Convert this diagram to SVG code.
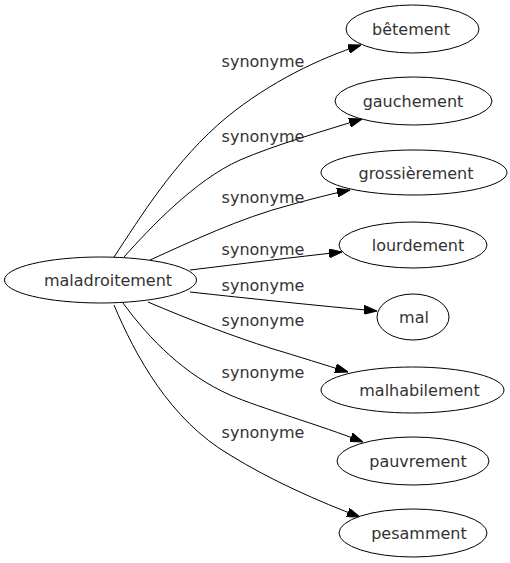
<svg xmlns="http://www.w3.org/2000/svg" width="510" height="563" viewBox="0 0 510 563">
<style>
  .node ellipse { fill: #ffffff; stroke: #000000; stroke-width: 1; }
  .node text { font-family: "DejaVu Sans", "Liberation Sans", sans-serif; font-size: 16px; fill: #333333; text-anchor: middle; }
  .edge path { fill: none; stroke: #000000; stroke-width: 1; marker-end: url(#arrow); }
  .edge text { font-family: "DejaVu Sans", "Liberation Sans", sans-serif; font-size: 16px; fill: #333333; text-anchor: middle; }
</style>
<defs>
  <marker id="arrow" viewBox="0 0 13 9" refX="13" refY="4.5" markerWidth="13" markerHeight="9" markerUnits="userSpaceOnUse" orient="auto">
    <path d="M0,0 L13,4.5 L0,9 z" fill="#000000" stroke="#000000" stroke-width="1"/>
  </marker>
</defs>
<rect width="510" height="563" fill="#ffffff"/>
<g id="connectors">
  <g class="edge"><path d="M114,257 C140,218 175,160 227,117 C270,82 320,58 361,45"/><text x="263" y="67">synonyme</text></g>
  <g class="edge"><path d="M124,257 C150,228 195,180 240,160 C275,145 320,132 362,119"/><text x="263" y="142">synonyme</text></g>
  <g class="edge"><path d="M150,260 C190,242 240,218 290,205 C315,198 335,193 350,190"/><text x="263" y="203">synonyme</text></g>
  <g class="edge"><path d="M190,270 C240,264 295,257 342,252"/><text x="263" y="255">synonyme</text></g>
  <g class="edge"><path d="M190,292 C245,298 320,306 377,311"/><text x="263" y="291">synonyme</text></g>
  <g class="edge"><path d="M148,302 C190,320 235,337 270,348 C300,357 325,365 348,372"/><text x="263" y="326">synonyme</text></g>
  <g class="edge"><path d="M123,303 C150,340 185,375 230,395 C260,408 320,425 363,442"/><text x="263" y="378">synonyme</text></g>
  <g class="edge"><path d="M114,305 C135,355 170,420 230,455 C270,480 320,502 360,517"/><text x="263" y="438">synonyme</text></g>
</g>
<g id="node-maladroitement" class="node"><ellipse cx="100.5" cy="280" rx="96" ry="23"/><text x="108" y="286">maladroitement</text></g>
<g id="node-betement" class="node"><ellipse cx="412.5" cy="29" rx="66.5" ry="24"/><text x="411" y="35">bêtement</text></g>
<g id="node-gauchement" class="node"><ellipse cx="413.5" cy="101" rx="78.5" ry="24"/><text x="413" y="107">gauchement</text></g>
<g id="node-grossierement" class="node"><ellipse cx="414" cy="172.5" rx="93" ry="22.5"/><text x="416" y="178.5">grossièrement</text></g>
<g id="node-lourdement" class="node"><ellipse cx="413" cy="245" rx="74" ry="23"/><text x="418" y="251">lourdement</text></g>
<g id="node-mal" class="node"><ellipse cx="413" cy="317" rx="36" ry="23"/><text x="414" y="323">mal</text></g>
<g id="node-malhabilement" class="node"><ellipse cx="412.5" cy="390" rx="91.5" ry="23"/><text x="419.5" y="396">malhabilement</text></g>
<g id="node-pauvrement" class="node"><ellipse cx="413" cy="461" rx="76" ry="24"/><text x="418" y="467">pauvrement</text></g>
<g id="node-pesamment" class="node"><ellipse cx="413" cy="533" rx="74" ry="24"/><text x="419" y="539">pesamment</text></g>
</svg>
